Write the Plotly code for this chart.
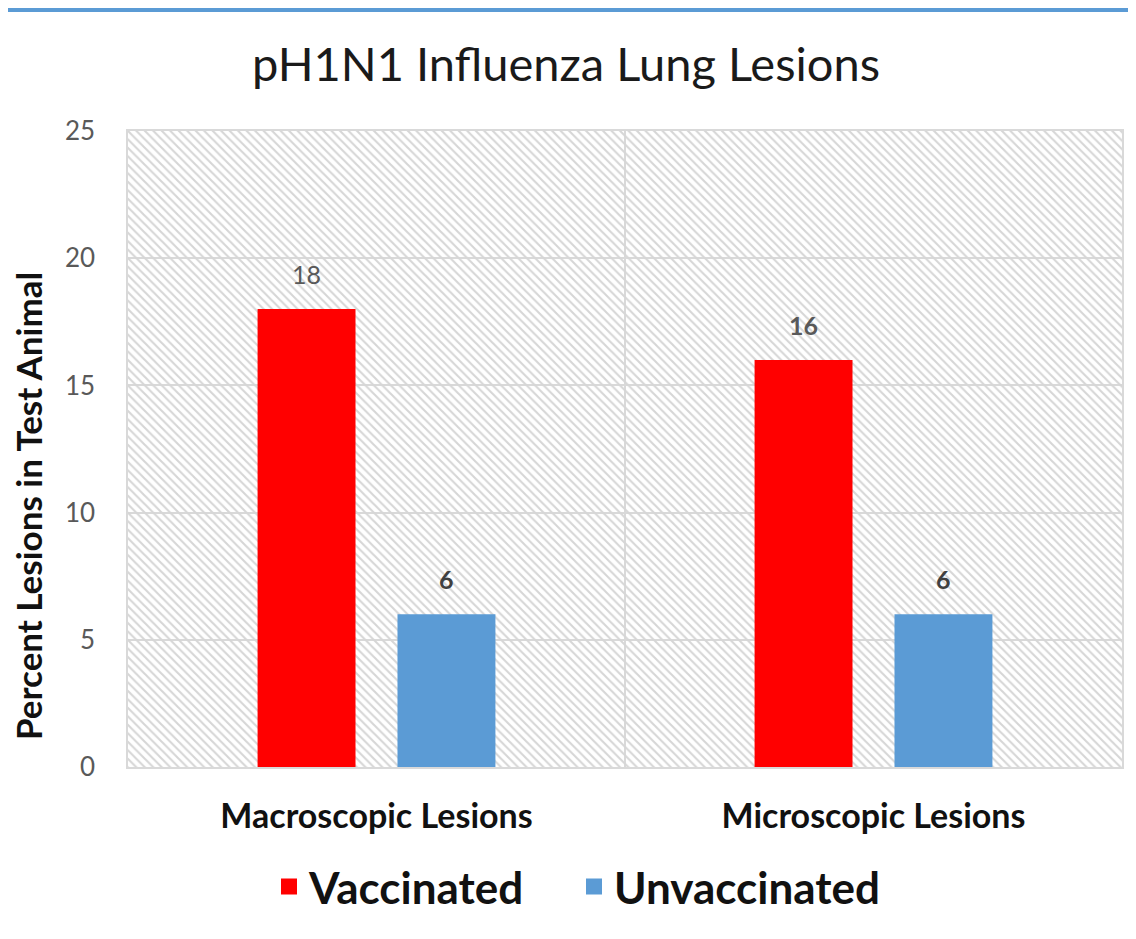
import plotly.graph_objects as go

categories = ["Macroscopic Lesions", "Microscopic Lesions"]
vaccinated = [18, 16]
unvaccinated = [6, 6]
vacc_labels = ["18", "<b>16</b>"]
unvacc_labels = ["<b>6</b>", "<b>6</b>"]
y_max = 25

FONT = "Lato"
RED, BLUE = "#FF0000", "#5B9BD5"
# page body has an 8px margin; plot area in page coords: x 128-1122, y 131-767
OFF = 8
W, H = 1136, 939
L, T = 128 - OFF, 131 - OFF
R = W - (1122 - OFF)
B = H - (767 - OFF)
PW, PH = 1122 - 128, 767 - 131

fig = go.Figure()

# hatched plot-area background
fig.add_trace(go.Bar(
    x=[0.5], y=[y_max], width=[1], xaxis="x", yaxis="y",
    marker=dict(color="#d6d6d6", line=dict(width=0),
                pattern=dict(shape="\\", size=6, solidity=0.35, fillmode="replace")),
    showlegend=False, hoverinfo="skip",
))

fig.add_trace(go.Bar(
    name="Vaccinated", x=categories, y=vaccinated, xaxis="x2", yaxis="y",
    marker=dict(color=RED, line=dict(width=0)), showlegend=False,
))
fig.add_trace(go.Bar(
    name="Unvaccinated", x=categories, y=unvaccinated, xaxis="x2", yaxis="y",
    marker=dict(color=BLUE, line=dict(width=0)), showlegend=False,
))

# legend entries with larger square swatches
for name, col in [("Vaccinated", RED), ("Unvaccinated", BLUE)]:
    fig.add_trace(go.Scatter(
        name=name, x=[None], y=[None], xaxis="x2", yaxis="y", mode="markers",
        marker=dict(symbol="square", size=16, color=col), showlegend=True,
    ))

# data labels above bars
annotations = []
for series, labels, shift, col in [(vaccinated, vacc_labels, -70, "#595959"),
                                     (unvaccinated, unvacc_labels, 70, "#404040")]:
    for cat, val, lab in zip(categories, series, labels):
        annotations.append(dict(
            x=cat, y=val, xref="x2", yref="y", text=lab, showarrow=False,
            xshift=shift, yshift=18, yanchor="bottom",
            font=dict(family=FONT, size=25, color=col)))

annotations.append(dict(
    text="<b>Percent Lesions in Test Animal</b>", textangle=-90, showarrow=False,
    xref="paper", yref="paper", x=(28 - 128) / PW, y=(767 - 506) / PH,
    xanchor="center", yanchor="middle",
    font=dict(family=FONT, size=35, color="#111111")))

fig.update_layout(
    width=W, height=H,
    margin=dict(l=L, r=R, t=T, b=B, autoexpand=False),
    paper_bgcolor="white", plot_bgcolor="white",
    barmode="group", bargap=0.437, bargroupgap=0.3,
    title=dict(text="pH1N1 Influenza Lung Lesions", x=(566 - OFF) / W, xanchor="center",
               y=1 - (65 - OFF) / H, yanchor="middle",
               font=dict(family=FONT, size=47, color="#1a1a1a")),
    xaxis=dict(range=[0, 1], visible=False, fixedrange=True),
    xaxis2=dict(overlaying="x", anchor="y", side="bottom", type="category",
                tickson="boundaries", showgrid=True, gridcolor="#d9d9d9", gridwidth=1.5,
                showline=True, linecolor="#d9d9d9", linewidth=1.5, mirror=True,
                ticks="", ticklabelstandoff=18, automargin=False,
                tickfont=dict(family=FONT, size=34, color="#111111", weight="bold")),
    yaxis=dict(range=[0, y_max], dtick=5, showgrid=True, gridcolor="#d9d9d9", gridwidth=1.5,
               showline=True, linecolor="#d9d9d9", linewidth=1.5, mirror=True,
               zeroline=False, ticks="", ticklabelstandoff=26, automargin=False,
               tickfont=dict(family=FONT, size=26, color="#595959")),
    legend=dict(orientation="h", x=(574 - 128) / PW, xanchor="center",
                y=(767 - 887) / PH, yanchor="middle",
                font=dict(family=FONT, size=44, color="#111111", weight="bold"),
                itemwidth=30, entrywidth=260, traceorder="normal"),
    annotations=annotations,
    shapes=[dict(type="rect", xref="paper", yref="paper", x0=-0.2, x1=1.2,
                 y0=(767 - OFF - 4) / PH, y1=(767 - OFF + 2) / PH,
                 fillcolor=BLUE, line=dict(width=0), layer="above")],
)

fig.write_html("out.html")
